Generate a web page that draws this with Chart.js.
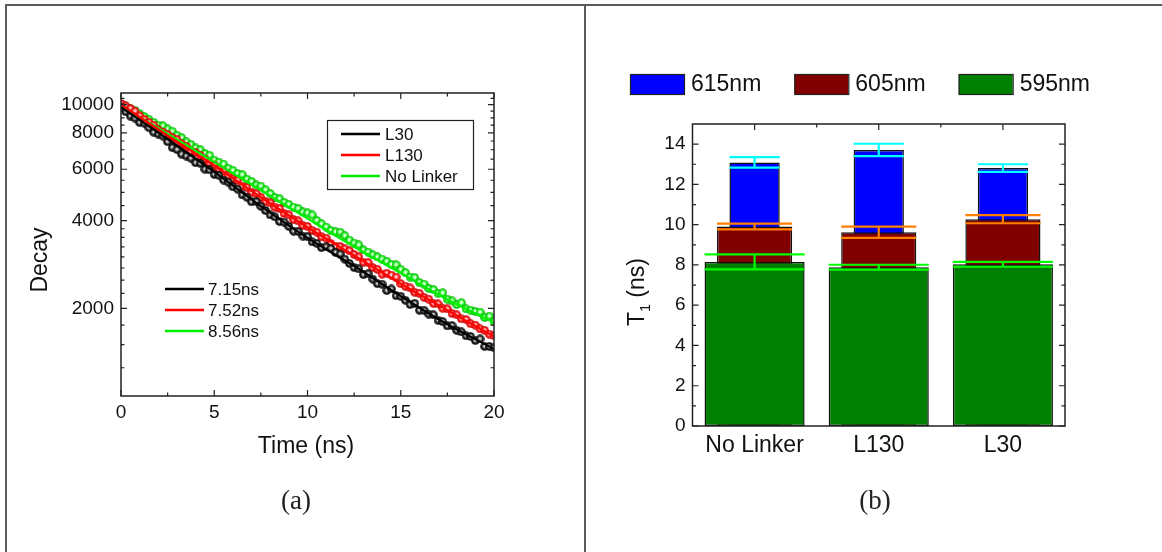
<!DOCTYPE html>
<html><head><meta charset="utf-8">
<script src="https://cdn.jsdelivr.net/npm/chart.js@4.4.1/dist/chart.umd.min.js"></script>
<style>
html,body{margin:0;padding:0;background:#fff;}
body{width:1162px;height:552px;position:relative;overflow:hidden;font-family:"Liberation Sans",Arial,sans-serif;}
.panel{position:absolute;top:0;width:581px;height:552px;}
#pa{left:0} #pb{left:581px}
canvas{display:block}
.frame{position:absolute;background:#5a5a5a;}
.lbl{position:absolute;font-family:"Liberation Serif","DejaVu Serif",serif;font-size:27px;color:#222;transform:translate(-50%,-50%);white-space:nowrap;}
</style></head>
<body>
<div class="panel" id="pa"><canvas id="ca" width="581" height="552"></canvas></div>
<div class="panel" id="pb"><canvas id="cb" width="581" height="552"></canvas></div>
<div class="frame" style="left:5px;top:4px;width:1157px;height:2px"></div>
<div class="frame" style="left:5px;top:4px;width:2px;height:548px"></div>
<div class="frame" style="left:584px;top:4px;width:2px;height:548px"></div>
<div class="lbl" style="left:296px;top:500px">(a)</div>
<div class="lbl" style="left:875px;top:500px">(b)</div>
<script>
// ---------- Panel (a) data ----------
const timeNs = [0,0.25,0.5,0.75,1,1.25,1.5,1.75,2,2.25,2.5,2.75,3,3.25,3.5,3.75,4,4.25,4.5,4.75,5,5.25,5.5,5.75,6,6.25,6.5,6.75,7,7.25,7.5,7.75,8,8.25,8.5,8.75,9,9.25,9.5,9.75,10,10.25,10.5,10.75,11,11.25,11.5,11.75,12,12.25,12.5,12.75,13,13.25,13.5,13.75,14,14.25,14.5,14.75,15,15.25,15.5,15.75,16,16.25,16.5,16.75,17,17.25,17.5,17.75,18,18.25,18.5,18.75,19,19.25,19.5,19.75,20];
const decayL30 = [9800,9460,9130,8990,8680,8635,8330,8040,7920,7800,
7460,7120,7010,6760,6660,6550,6320,6290,6000,5970,
5760,5720,5510,5420,5220,5130,4900,4810,4640,4650,
4480,4330,4180,4120,3970,3950,3820,3680,3670,3540,
3520,3380,3340,3230,3250,3210,3110,3070,2950,2850,
2760,2730,2610,2630,2520,2430,2420,2300,2330,2210,
2200,2130,2060,2080,1970,1970,1910,1900,1820,1800,
1740,1745,1680,1660,1610,1600,1550,1570,1480,1480,1465];
const decayL130 = [10100,9900,9700,9500,9150,8900,8700,8500,8200,8050,
7900,7700,7600,7350,7200,6900,6850,6700,6500,6300,
6200,6000,5900,5700,5550,5500,5250,5200,5000,4950,
4800,4650,4600,4450,4400,4230,4180,4030,3990,3850,
3820,3700,3650,3520,3480,3340,3270,3260,3200,3150,
3060,3000,2880,2870,2760,2720,2620,2640,2600,2560,
2430,2380,2350,2270,2250,2180,2150,2080,2070,2000,
1990,1920,1900,1840,1830,1770,1750,1700,1680,1630,1610];
const decayNoLinker = [10000,9850,9700,9550,9300,9100,8900,8700,8500,8450,
8250,8100,7850,7700,7450,7300,7100,7000,6800,6700,
6450,6350,6250,6050,5950,5800,5750,5550,5450,5300,
5250,5100,4950,4800,4750,4620,4550,4450,4400,4280,
4250,4180,4000,3900,3800,3700,3660,3650,3550,3430,
3350,3300,3170,3120,3050,3000,2950,2900,2830,2820,
2720,2650,2560,2550,2450,2420,2340,2320,2250,2260,
2150,2120,2060,2090,1990,1970,1950,1940,1860,1880,1800];
const fitTime = [0,2.5,5,7.5,10,12.5,15,17.5,20];
const fitL30 = [9800,7610,5875,4482,3488,2793,2203,1762,1450];
const fitL130 = [10000,7820,6180,4808,3795,3035,2427,1970,1600];
const fitNoLinker = [9900,7940,6350,5080,4065,3253,2640,2143,1787];
const seriesLabels = ['L30','L130','No Linker'];
const lifetimeLabels = ['7.15ns','7.52ns','8.56ns'];
const yTicksA = [2000,4000,6000,8000,10000];
const yMinorA = [1250,1500,1750,2250,2500,2750,3000,3250,3500,3750,4500,5000,5500,6500,7000,7500,8500,9000,9500,10500];
const xMajorA = [0,5,10,15,20];
const xMinorA = [2.5,7.5,12.5,17.5];

// ---------- Panel (b) data ----------
const categories = ['No Linker','L130','L30'];
const t615 = [13.09,13.71,12.81];
const err615 = [0.26,0.31,0.19];
const t605 = [9.91,9.62,10.27];
const err605 = [0.14,0.28,0.2];
const t595 = [8.15,7.89,8.03];
const err595 = [0.37,0.12,0.12];
const barLabels = ['615nm','605nm','595nm'];
const yTicksB = [0,2,4,6,8,10,12,14];
const yMinorB = [1,3,5,7,9,11,13];

const FONT = "'Liberation Sans', Arial, sans-serif";
Chart.defaults.font.family = FONT;
Chart.defaults.color = '#111';

function sphere(light, mid, dark){
  const c = document.createElement('canvas'); c.width = 9; c.height = 9;
  const g = c.getContext('2d');
  const grd = g.createRadialGradient(4.5,4.1,0.2,4.5,4.5,4.5);
  grd.addColorStop(0,'rgba(255,255,255,0.95)');
  grd.addColorStop(0.28,light);
  grd.addColorStop(0.6,mid);
  grd.addColorStop(1,dark);
  g.fillStyle = grd; g.beginPath(); g.arc(4.5,4.5,4.3,0,Math.PI*2); g.fill();
  return c;
}
const colA = ['#000000','#ff0000','#00ee00'];
const markers = [sphere('#9a9a9a','#1a1a1a','#000'), sphere('#ff9a9a','#ff1010','#b00000'), sphere('#b0ffb0','#10f010','#009a00')];

function pts(xs, ys){ return xs.map((x,i)=>({x:x, y:ys[i]})); }

const decorA = {
  id:'decorA',
  afterDraw(chart){
    const {ctx, chartArea:a, scales:{x,y}} = chart;
    ctx.save();
    ctx.strokeStyle='#222'; ctx.lineWidth=1.5;
    ctx.strokeRect(a.left,a.top,a.right-a.left,a.bottom-a.top);
    ctx.lineWidth=1.2;
    const vt=(v,len)=>{const px=x.getPixelForValue(v);ctx.beginPath();ctx.moveTo(px,a.bottom);ctx.lineTo(px,a.bottom-len);ctx.moveTo(px,a.top);ctx.lineTo(px,a.top+len);ctx.stroke();};
    const ht=(v,len)=>{const py=y.getPixelForValue(v);if(py<a.top||py>a.bottom)return;ctx.beginPath();ctx.moveTo(a.left,py);ctx.lineTo(a.left+len,py);ctx.moveTo(a.right,py);ctx.lineTo(a.right-len,py);ctx.stroke();};
    xMajorA.forEach(v=>vt(v,6)); xMinorA.forEach(v=>vt(v,3.5));
    yTicksA.forEach(v=>ht(v,6)); yMinorA.forEach(v=>ht(v,3.5));
    ctx.fillStyle='#111'; ctx.font='23px '+FONT; ctx.textAlign='center'; ctx.textBaseline='middle';
    ctx.fillText('Time (ns)', 306, 447);
    ctx.save(); ctx.translate(41,260); ctx.rotate(-Math.PI/2); ctx.fillText('Decay',0,0); ctx.restore();
    ctx.strokeStyle='#222'; ctx.lineWidth=1.2; ctx.strokeRect(327.5,120.5,146,69);
    ctx.font='17px '+FONT; ctx.textAlign='left'; ctx.textBaseline='middle';
    const ly=[134,155,176];
    seriesLabels.forEach((t,i)=>{
      ctx.strokeStyle=colA[i]; ctx.lineWidth=2.5; ctx.beginPath(); ctx.moveTo(341,ly[i]); ctx.lineTo(380,ly[i]); ctx.stroke();
      ctx.fillStyle='#111'; ctx.fillText(t,385,ly[i]+1);
    });
    const ly2=[289,310,331];
    lifetimeLabels.forEach((t,i)=>{
      ctx.strokeStyle=colA[i]; ctx.lineWidth=2.5; ctx.beginPath(); ctx.moveTo(165,ly2[i]); ctx.lineTo(204,ly2[i]); ctx.stroke();
      ctx.fillStyle='#111'; ctx.fillText(t,208,ly2[i]+1);
    });
    ctx.restore();
  }
};

new Chart(document.getElementById('ca'), {
  type:'scatter',
  data:{datasets:[
    {label:'L30 fit', data:pts(fitTime,fitL30), showLine:true, pointRadius:0, borderColor:colA[0], borderWidth:2.2, cubicInterpolationMode:'monotone', order:0},
    {label:'L130 fit', data:pts(fitTime,fitL130), showLine:true, pointRadius:0, borderColor:colA[1], borderWidth:2.2, cubicInterpolationMode:'monotone', order:0},
    {label:'No Linker fit', data:pts(fitTime,fitNoLinker), showLine:true, pointRadius:0, borderColor:colA[2], borderWidth:2.2, cubicInterpolationMode:'monotone', order:0},
    {label:'L30', data:pts(timeNs,decayL30), pointStyle:markers[0], pointRadius:4.5, order:1},
    {label:'L130', data:pts(timeNs,decayL130), pointStyle:markers[1], pointRadius:4.5, order:2},
    {label:'No Linker', data:pts(timeNs,decayNoLinker), pointStyle:markers[2], pointRadius:4.5, order:3}
  ]},
  options:{
    responsive:false, animation:false, devicePixelRatio:1,
    layout:{padding:{left:61,top:93,right:87,bottom:96}},
    plugins:{legend:{display:false}, tooltip:{enabled:false}},
    scales:{
      x:{type:'linear', min:0, max:20, ticks:{stepSize:5, font:{size:19}, color:'#111', padding:5},
         grid:{display:false, drawTicks:false}, border:{display:false},
         afterFit(s){ s.height=60; }},
      y:{type:'logarithmic', min:1000, max:10960,
         afterBuildTicks(s){ s.ticks = yTicksA.map(v=>({value:v})); },
         ticks:{callback:(v)=>String(v), font:{size:19}, color:'#111', padding:7},
         grid:{display:false, drawTicks:false}, border:{display:false},
         afterFit(s){ s.width=60; }}
    }
  },
  plugins:[decorA]
});

// ---------- Panel (b) ----------
const colB = ['#0000ff','#800000','#008000'];
const errColB = ['#00ffff','#ff8000','#00ff00'];
const valsB = [t615,t605,t595];
const errsB = [err615,err605,err595];

const decorB = {
  id:'decorB',
  afterDatasetsDraw(chart){
    const {ctx, scales:{y}} = chart;
    ctx.save(); ctx.lineWidth=2.2;
    [0,1,2].forEach(d=>{
      const meta = chart.getDatasetMeta(d);
      meta.data.forEach((el,i)=>{
        const v=valsB[d][i], e=errsB[d][i];
        const yt=y.getPixelForValue(v+e), yb=y.getPixelForValue(v-e);
        const hw=el.width/2;
        ctx.strokeStyle=errColB[d];
        ctx.beginPath();
        ctx.moveTo(el.x-hw,yt); ctx.lineTo(el.x+hw,yt);
        ctx.moveTo(el.x-hw,yb); ctx.lineTo(el.x+hw,yb);
        ctx.moveTo(el.x,yt); ctx.lineTo(el.x,yb);
        ctx.stroke();
      });
    });
    ctx.restore();
  },
  afterDraw(chart){
    const {ctx, chartArea:a, scales:{x,y}} = chart;
    ctx.save();
    ctx.strokeStyle='#222'; ctx.lineWidth=1.5;
    ctx.strokeRect(a.left,a.top,a.right-a.left,a.bottom-a.top);
    ctx.lineWidth=1.2;
    const ht=(v,len)=>{const py=y.getPixelForValue(v);ctx.beginPath();ctx.moveTo(a.left,py);ctx.lineTo(a.left+len,py);ctx.moveTo(a.right,py);ctx.lineTo(a.right-len,py);ctx.stroke();};
    yTicksB.forEach(v=>ht(v,6)); yMinorB.forEach(v=>ht(v,3.5));
    categories.forEach((c,i)=>{
      const px=x.getPixelForValue(i);
      ctx.beginPath(); ctx.moveTo(px,a.top); ctx.lineTo(px,a.top+6); ctx.stroke();
      if(i<categories.length-1){
        const pb=(px+x.getPixelForValue(i+1))/2;
        ctx.beginPath(); ctx.moveTo(pb,a.top); ctx.lineTo(pb,a.top+3.5); ctx.stroke();
      }
    });
    ctx.fillStyle='#111'; ctx.textBaseline='middle'; ctx.textAlign='left';
    ctx.save(); ctx.translate(57,292); ctx.rotate(-Math.PI/2);
    ctx.font='23px '+FONT; const wT=ctx.measureText('T').width, wR=ctx.measureText(' (ns)').width;
    ctx.font='14px '+FONT; const w1=ctx.measureText('1').width;
    let x0=-(wT+w1+wR)/2;
    ctx.font='23px '+FONT; ctx.fillText('T',x0,0);
    ctx.font='14px '+FONT; ctx.fillText('1',x0+wT,8);
    ctx.font='23px '+FONT; ctx.fillText(' (ns)',x0+wT+w1,0);
    ctx.restore();
    ctx.font='23px '+FONT; ctx.textBaseline='middle';
    let lx=49;
    barLabels.forEach((t,i)=>{
      ctx.fillStyle=colB[i]; ctx.fillRect(lx,74,54,20);
      ctx.strokeStyle='#222'; ctx.lineWidth=1.2; ctx.strokeRect(lx+0.5,74.5,54,20);
      ctx.fillStyle='#111'; ctx.fillText(t,lx+61,85);
      lx += 54+7+ctx.measureText(t).width+33;
    });
    ctx.restore();
  }
};

new Chart(document.getElementById('cb'), {
  type:'bar',
  data:{labels:categories, datasets:[
    {label:barLabels[0], data:t615, backgroundColor:colB[0], borderColor:'#111', borderWidth:1.5, borderSkipped:false, grouped:false, categoryPercentage:1, barPercentage:0.405, order:3},
    {label:barLabels[1], data:t605, backgroundColor:colB[1], borderColor:'#111', borderWidth:1.5, borderSkipped:false, grouped:false, categoryPercentage:1, barPercentage:0.605, order:2},
    {label:barLabels[2], data:t595, backgroundColor:colB[2], borderColor:'#111', borderWidth:1.5, borderSkipped:false, grouped:false, categoryPercentage:1, barPercentage:0.806, order:1}
  ]},
  options:{
    responsive:false, animation:false, devicePixelRatio:1,
    layout:{padding:{left:61.5,top:124,right:97,bottom:76}},
    plugins:{legend:{display:false}, tooltip:{enabled:false}},
    scales:{
      x:{type:'category', ticks:{font:{size:23}, color:'#111', padding:6},
         grid:{display:false, drawTicks:false}, border:{display:false},
         afterFit(s){ s.height=50; }},
      y:{type:'linear', min:0, max:15,
         afterBuildTicks(s){ s.ticks = yTicksB.map(v=>({value:v})); },
         ticks:{font:{size:19}, color:'#111', padding:7},
         grid:{display:false, drawTicks:false}, border:{display:false},
         afterFit(s){ s.width=50; }}
    }
  },
  plugins:[decorB]
});
</script>
</body></html>
